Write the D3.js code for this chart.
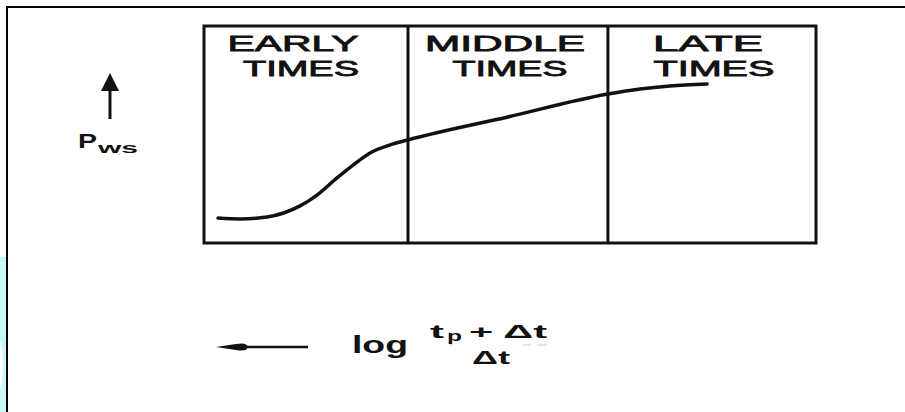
<!DOCTYPE html>
<html>
<head>
<meta charset="utf-8">
<script src="https://cdn.jsdelivr.net/npm/d3@7"></script>
<style>
  html, body { margin: 0; padding: 0; background: #fff; }
  svg { display: block; }
  text { font-family: "Liberation Sans", Arial, sans-serif; fill: #111; }
</style>
</head>
<body>
<div id="chart"></div>
<script>
// Flow regimes of a buildup plot (Horner time on x, shut-in pressure on y)
const regions = ["EARLY", "MIDDLE", "LATE"];
const regionSubtitle = ["TIMES", "TIMES", "TIMES"];
const regionBounds = [0, 1, 1.98, 3];          // Horner-time units, log scale schematic

// Shut-in pressure curve: x = relative log time, y = relative pressure
const curveX = [0.069, 0.176, 0.309, 0.471, 0.554, 0.652, 0.750, 0.814, 0.912, 1.0, 1.49, 1.98, 2.137, 2.284, 2.466];
const curveY = [1.15, 1.11, 1.20, 1.71, 2.21, 3.00, 3.73, 4.15, 4.52, 4.75, 5.81, 6.87, 7.10, 7.24, 7.33];

const W = 905, H = 412;
const box = { left: 204, right: 816, top: 26, bottom: 243 };

const svg = d3.select("#chart").append("svg")
  .attr("width", W).attr("height", H);

const x = d3.scaleLinear().domain([0, 3]).range([box.left, box.right]);
const y = d3.scaleLinear().domain([0, 10]).range([box.bottom, box.top]);

// page frame and scan edge
svg.append("rect").attr("x", 0).attr("y", 257).attr("width", 6).attr("height", H - 257)
  .attr("fill", "#c6f6f8");
svg.append("ellipse").attr("cx", 0).attr("cy", 365).attr("rx", 3).attr("ry", 24).attr("fill", "#fff");
svg.append("line").attr("x1", 6).attr("x2", W).attr("y1", 7).attr("y2", 7)
  .attr("stroke", "#000").attr("stroke-width", 2);
svg.append("line").attr("x1", 7).attr("x2", 7).attr("y1", 6).attr("y2", H)
  .attr("stroke", "#000").attr("stroke-width", 2);

// plot box
svg.append("rect")
  .attr("x", x(regionBounds[0])).attr("y", box.top)
  .attr("width", x(regionBounds[3]) - x(regionBounds[0]))
  .attr("height", box.bottom - box.top)
  .attr("fill", "none").attr("stroke", "#111").attr("stroke-width", 3);

// region dividers
svg.selectAll("line.divider")
  .data(regionBounds.slice(1, -1))
  .join("line")
  .attr("class", "divider")
  .attr("x1", d => x(d)).attr("x2", d => x(d))
  .attr("y1", box.top).attr("y2", box.bottom)
  .attr("stroke", "#111").attr("stroke-width", 3);

// region headers
const headerShift = [[-13, -5], [-3, 2], [-4, 2]];
const headerWidth = [[131, 116], [160, 115], [110, 121]];
regions.forEach((name, i) => {
  const cx = (x(regionBounds[i]) + x(regionBounds[i + 1])) / 2;
  [name, regionSubtitle[i]].forEach((s, j) => {
    svg.append("text")
      .attr("x", cx + headerShift[i][j])
      .attr("y", j === 0 ? 51 : 75.5)
      .attr("text-anchor", "middle")
      .attr("font-size", 21.5)
      .attr("stroke", "#111").attr("stroke-width", 0.8)
      .attr("textLength", headerWidth[i][j])
      .attr("lengthAdjust", "spacingAndGlyphs")
      .text(s);
  });
});

// pressure curve
const pts = curveX.map((v, i) => [v, curveY[i]]);
svg.append("path")
  .datum(pts)
  .attr("d", d3.line().x(d => x(d[0])).y(d => y(d[1])).curve(d3.curveMonotoneX))
  .attr("fill", "none").attr("stroke", "#111").attr("stroke-width", 3.5)
  .attr("stroke-linecap", "round");

// y-axis label with upward arrow
svg.append("line").attr("x1", 110).attr("x2", 110).attr("y1", 119).attr("y2", 86)
  .attr("stroke", "#111").attr("stroke-width", 3);
svg.append("path").attr("d", "M110,73 L101,91 L119,91 Z").attr("fill", "#111");
svg.append("text").attr("x", 78).attr("y", 148).attr("font-size", 20).attr("font-weight", "bold")
  .attr("textLength", 19).attr("lengthAdjust", "spacingAndGlyphs").text("P");
svg.append("text").attr("x", 98).attr("y", 153).attr("font-size", 14).attr("font-weight", "bold")
  .attr("textLength", 40).attr("lengthAdjust", "spacingAndGlyphs").text("ws");

// x-axis label with leftward arrow
svg.append("line").attr("x1", 240).attr("x2", 308).attr("y1", 347).attr("y2", 347)
  .attr("stroke", "#111").attr("stroke-width", 2.5);
svg.append("path").attr("d", "M216,347 L236,344 Q247,342 248,347 Q247,352 236,350 Z").attr("fill", "#111");

svg.append("text").attr("x", 352).attr("y", 353).attr("font-size", 23).attr("font-weight", "bold")
  .attr("textLength", 56).attr("lengthAdjust", "spacingAndGlyphs").text("log");
svg.append("text").attr("x", 430).attr("y", 338).attr("font-size", 19).attr("font-weight", "bold")
  .attr("textLength", 14).attr("lengthAdjust", "spacingAndGlyphs").text("t");
svg.append("text").attr("x", 447).attr("y", 341).attr("font-size", 14).attr("font-weight", "bold")
  .attr("textLength", 15).attr("lengthAdjust", "spacingAndGlyphs").text("p");
svg.append("text").attr("x", 469).attr("y", 338).attr("font-size", 19).attr("font-weight", "bold")
  .attr("textLength", 78).attr("lengthAdjust", "spacingAndGlyphs").text("+ Δt");
svg.append("line").attr("x1", 450).attr("x2", 552).attr("y1", 345).attr("y2", 345)
  .attr("stroke", "#ccc").attr("stroke-width", 1.2).attr("stroke-dasharray", "3,70,8,6,10,6");
svg.append("text").attr("x", 472).attr("y", 364).attr("font-size", 18).attr("font-weight", "bold")
  .attr("textLength", 38).attr("lengthAdjust", "spacingAndGlyphs").text("Δt");
</script>
</body>
</html>
